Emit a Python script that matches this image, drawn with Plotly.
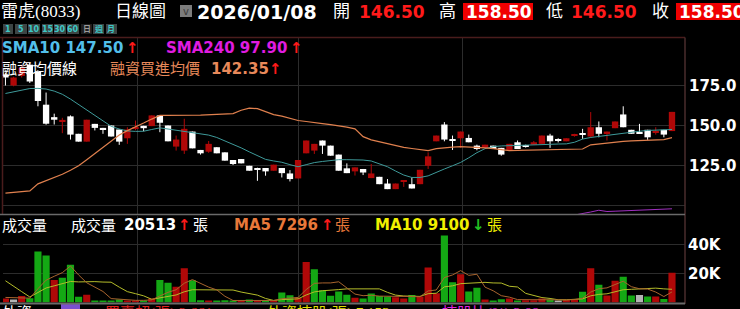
import plotly.graph_objects as go

# ---------------- data ----------------
open_ = [182.0, 175.0, 181.0, 188.0, 183.5, 163.0, 155.2, 152.5, 155.7, 144.8,
         139.9, 151.0, 148.5, 150.0, 147.5, 142.0, 148.0, 149.8, 149.6, 156.3,
         150.0, 136.8, 134.3, 146.2, 134.7, 133.6, 136.4, 133.2, 128.4, 129.0,
         124.8, 123.4, 123.4, 121.7, 123.4, 120.0, 116.9, 132.6, 134.3, 140.6,
         137.4, 131.8, 123.2, 121.3, 122.8, 117.1, 117.9, 113.7, 110.2, 115.0,
         113.3, 113.3, 124.8, 140.1, 150.6, 141.2, 142.0, 142.2, 137.4, 135.9,
         137.4, 136.0, 134.7, 139.5, 137.4, 138.0, 138.5, 143.7, 141.2, 140.1,
         143.5, 144.8, 143.1, 148.9, 145.2, 148.3, 156.9, 147.3, 145.8, 147.3,
         145.8, 147.3, 146.5]
high = [183.0, 180.5, 188.0, 189.0, 184.5, 170.6, 157.4, 154.8, 156.3, 144.8,
        153.6, 151.0, 148.5, 150.0, 147.5, 148.9, 153.1, 149.8, 156.3, 156.3,
        150.0, 143.7, 154.2, 146.2, 134.7, 140.3, 136.4, 133.2, 128.4, 129.0,
        124.8, 123.6, 123.4, 125.5, 123.4, 122.1, 128.4, 140.6, 138.5, 140.6,
        137.4, 131.8, 126.3, 123.8, 122.8, 125.9, 117.9, 116.5, 113.7, 115.8,
        117.5, 122.3, 133.2, 143.7, 152.1, 143.7, 146.2, 144.3, 138.0, 138.0,
        137.4, 136.0, 138.5, 140.6, 138.0, 140.3, 143.7, 144.8, 142.0, 142.0,
        144.8, 147.9, 158.4, 152.5, 146.2, 152.5, 162.0, 147.3, 151.0, 147.3,
        148.9, 147.3, 158.5]
low = [175.0, 174.5, 180.0, 176.6, 162.0, 150.5, 150.6, 145.2, 141.2, 139.9,
       139.9, 146.9, 144.8, 143.1, 137.9, 138.5, 147.0, 146.4, 149.6, 145.8,
       140.1, 134.3, 132.2, 135.7, 131.8, 132.9, 132.6, 128.0, 125.3, 126.3,
       121.7, 115.4, 118.6, 121.7, 117.5, 115.0, 116.9, 132.6, 132.2, 132.2,
       131.1, 121.7, 120.2, 118.7, 119.0, 117.1, 113.3, 110.2, 110.2, 111.6,
       110.6, 113.3, 122.8, 140.1, 140.1, 134.7, 136.0, 139.5, 134.5, 135.9,
       135.3, 131.1, 134.7, 135.3, 136.2, 138.0, 138.5, 136.0, 139.4, 140.1,
       143.0, 141.6, 142.2, 142.6, 140.6, 148.3, 148.9, 144.8, 145.2, 141.0,
       144.3, 142.6, 146.5]
close = [180.0, 180.0, 186.0, 177.5, 165.3, 151.1, 153.6, 153.5, 144.3, 139.9,
         153.6, 148.5, 147.5, 143.1, 139.9, 147.5, 149.0, 148.3, 156.3, 151.7,
         140.1, 141.2, 147.9, 135.7, 132.6, 138.5, 132.6, 128.0, 125.9, 126.3,
         121.7, 122.6, 121.3, 125.5, 120.2, 116.5, 128.4, 140.6, 138.5, 137.4,
         131.1, 121.7, 120.2, 123.8, 120.6, 120.0, 113.3, 110.2, 113.7, 115.8,
         110.6, 122.3, 130.7, 143.7, 141.2, 140.6, 146.2, 139.5, 135.3, 138.0,
         135.3, 131.8, 138.5, 135.3, 136.8, 139.5, 143.7, 140.1, 140.4, 142.0,
         144.3, 144.1, 148.9, 144.8, 146.2, 152.5, 148.9, 144.8, 145.2, 142.6,
         146.4, 144.3, 158.5]
volume = [2760, 2070, 4400, 3000, 35200, 32400, 15600, 17000, 26000, 3900,
          5300, 1400, 1400, 1400, 2000, 1400, 1400, 1400, 2800, 15600,
          13600, 10800, 23700, 15400, 1600, 1400, 1400, 1600, 1200, 1200,
          2000, 1400, 1200, 1400, 6900, 5000, 3200, 28000, 23000, 8500,
          4600, 7600, 5300, 3200, 2800, 6200, 4500, 4200, 3700, 2800,
          5200, 4200, 24200, 6400, 46200, 13900, 19500, 7600, 10100, 2100,
          1200, 2300, 2800, 1400, 1600, 1600, 2800, 2100, 900, 1800,
          2300, 7400, 23700, 12200, 4800, 15000, 17700, 4800, 5100, 4100,
          4100, 2500, 20513]
vol_dir = ["r", "n", "r", "g", "g", "g", "r", "g", "g", "g",
           "r", "g", "g", "g", "g", "r", "r", "g", "r", "g",
           "g", "r", "r", "g", "g", "r", "g", "g", "g", "r",
           "g", "r", "g", "r", "g", "g", "r", "r", "g", "g",
           "g", "g", "g", "r", "g", "g", "g", "g", "r", "r",
           "g", "r", "r", "r", "g", "g", "r", "g", "g", "r",
           "g", "g", "r", "g", "r", "r", "r", "g", "n", "r",
           "r", "g", "r", "g", "r", "r", "g", "g", "n", "g",
           "r", "g", "r"]
sma10 = [170.0, 171.0, 172.2, 173.1, 173.2, 172.8, 171.5, 169.5, 166.5, 163.0,
         159.5, 156.0, 152.5, 149.5, 147.8, 146.6, 146.3, 146.4, 147.5, 148.5,
         147.8, 147.0, 146.4, 145.8, 145.0, 144.0, 142.5, 140.5, 138.5, 136.0,
         133.5, 131.0, 128.8, 127.8, 127.0, 125.5, 124.2, 125.5, 126.8, 127.5,
         128.2, 128.6, 128.6, 128.5, 128.4, 127.8, 126.0, 124.2, 121.5, 119.0,
         117.5, 117.5, 118.5, 120.8, 122.8, 124.8, 126.9, 129.8, 133.0, 135.5,
         136.8, 137.2, 137.3, 137.4, 137.5, 137.8, 138.0, 138.2, 138.4, 138.5,
         139.5, 141.5, 142.5, 143.2, 143.7, 144.3, 145.2, 146.0, 146.4, 146.9,
         147.1, 147.3, 147.5]
margin_avg = [107.7, 108.2, 108.6, 109.1, 113.5, 115.5, 117.5, 119.5, 122.0, 124.8,
              128.5, 132.5, 136.5, 140.5, 144.0, 146.8, 149.0, 151.5, 154.0, 156.3,
              156.3, 156.2, 156.3, 156.4, 156.5, 156.7, 156.9, 157.2, 157.4, 159.5,
              160.9, 160.5, 158.5, 156.8, 155.8, 154.5, 153.1, 152.5, 152.0, 151.2,
              150.5, 149.8, 149.0, 147.9, 143.0, 141.0, 139.8, 138.5, 137.3, 136.3,
              135.6, 135.0, 134.3, 135.5, 136.2, 136.5, 136.8, 136.6, 136.3, 136.0,
              135.5, 134.8, 134.3, 134.4, 134.5, 134.6, 134.7, 134.8, 134.9, 135.0,
              135.2, 135.3, 137.9, 138.5, 139.0, 139.6, 140.1, 140.4, 140.6, 140.8,
              141.0, 141.2, 142.35]
sma240 = [None] * 70 + [94.0, 94.8, 95.9, 97.0, 96.2, 96.4, 96.6, 96.8, 97.0,
                        97.2, 97.4, 97.6, 97.9]
vol_ma5 = [3500, 3200, 3300, 3000, 9500, 15400, 18100, 20600, 25200, 19000,
           13600, 10700, 7600, 2700, 2300, 1500, 1500, 1500, 1800, 4500,
           7000, 8800, 13300, 15800, 13000, 10600, 8700, 4300, 1400, 1400,
           1500, 1500, 1400, 1400, 2600, 3200, 3500, 8900, 13200, 13500,
           13500, 14300, 9800, 5800, 4700, 5000, 4400, 4200, 4300, 4300,
           4100, 4000, 8000, 8600, 17200, 19000, 22000, 18700, 19500, 10600,
           8100, 4700, 3700, 2000, 1900, 1900, 2000, 1900, 1800, 1800,
           2000, 2900, 7200, 9500, 10100, 12600, 14700, 10900, 9500, 9300,
           7200, 4100, 7296]
vol_ma10 = [15000, 11500, 7500, 3800, 7000, 10000, 11500, 12800, 14500, 14200,
            14500, 14400, 14100, 14000, 10600, 7500, 6100, 4600, 2200, 3400,
            4200, 5200, 7400, 8800, 8800, 8800, 8800, 8800, 8600, 7200,
            6000, 5100, 2800, 1400, 2000, 2300, 2500, 5200, 7300, 8100,
            8300, 8900, 9400, 9500, 9100, 9200, 9400, 7000, 5100, 4500,
            4600, 4200, 6100, 6400, 10800, 11500, 13000, 13400, 14000, 13900,
            13500, 13400, 11200, 10700, 6300, 5000, 3400, 2800, 1900, 1900,
            2000, 2500, 4600, 5600, 6000, 7300, 8800, 9100, 9500, 9700,
            9900, 9400, 9100]
price_ticks = [100, 125, 150, 175]
price_tick_text = ["", "125.0", "150.0", "175.0"]
vol_ticks = [20000, 40000]
vol_tick_text = ["20K", "40K"]
month_breaks = [16.2, 36.1, 56.2]

# ---------------- styling ----------------
W, H = 740, 309
def px(x): return x / W
def py(y): return 1 - y / H

RED = "#B00808"
WHITE = "#FFFFFF"
GREEN = "#14A814"
GRAY = "#B4B4B4"
GRID = "#2C2C2C"
NUM = "DejaVu Sans"
CJK = "Liberation Serif, Noto Sans CJK TC"

idx = list(range(len(close)))
up = [c > o for o, c in zip(open_, close)]

fig = go.Figure()

# wicks
for flag, col in ((True, RED), (False, WHITE)):
    wx, wy = [], []
    for i in idx:
        if up[i] == flag:
            wx += [i, i, None]
            wy += [low[i], high[i], None]
    fig.add_trace(go.Scatter(x=wx, y=wy, mode="lines", line=dict(color=col, width=1),
                             hoverinfo="skip", xaxis="x", yaxis="y"))

# bodies
base = [min(o, c) for o, c in zip(open_, close)]
height = [max(abs(c - o), 0.8) for o, c in zip(open_, close)]
bcol = [RED if u else WHITE for u in up]
fig.add_trace(go.Bar(x=idx, y=height, base=base, width=0.78,
                     marker=dict(color=bcol, line=dict(width=0)),
                     xaxis="x", yaxis="y", hoverinfo="skip"))

# lines on price panel
fig.add_trace(go.Scatter(x=idx, y=sma10, mode="lines", line=dict(color="#3E9A9A", width=1),
                         xaxis="x", yaxis="y", hoverinfo="skip"))
fig.add_trace(go.Scatter(x=idx, y=margin_avg, mode="lines", line=dict(color="#E0804E", width=1.2),
                         xaxis="x", yaxis="y", hoverinfo="skip"))
fig.add_trace(go.Scatter(x=idx, y=sma240, mode="lines", line=dict(color="#A030C0", width=1),
                         xaxis="x", yaxis="y", hoverinfo="skip"))

# volume
vmap = {"r": RED, "g": GREEN, "n": GRAY}
fig.add_trace(go.Bar(x=idx, y=volume, width=0.88,
                     marker=dict(color=[vmap[d] for d in vol_dir], line=dict(width=0)),
                     xaxis="x2", yaxis="y2", hoverinfo="skip"))
fig.add_trace(go.Scatter(x=idx, y=vol_ma10, mode="lines", line=dict(color="#B4BC2A", width=1),
                         xaxis="x2", yaxis="y2", hoverinfo="skip"))
fig.add_trace(go.Scatter(x=idx, y=vol_ma5, mode="lines", line=dict(color="#A8642E", width=1),
                         xaxis="x2", yaxis="y2", hoverinfo="skip"))

xcommon = dict(domain=[px(3), px(685)], range=[-0.3, 83.6], tickvals=month_breaks,
               showticklabels=False, showgrid=True, gridcolor=GRID, gridwidth=1,
               zeroline=False, showline=False, ticks="", fixedrange=True)
fig.update_layout(
    width=W, height=H, margin=dict(l=0, r=0, t=0, b=0),
    paper_bgcolor="black", plot_bgcolor="black", showlegend=False,
    barmode="overlay",
    xaxis=dict(anchor="y", **xcommon),
    xaxis2=dict(anchor="y2", matches="x", **xcommon),
    yaxis=dict(domain=[py(214), py(38)], range=[94.65, 204.7], side="right",
               tickvals=price_ticks, ticktext=price_tick_text, showgrid=True,
               gridcolor=GRID, zeroline=False, ticks="", ticklabelstandoff=3,
               tickfont=dict(family=NUM, size=15, color="white", weight="bold"),
               fixedrange=True),
    yaxis2=dict(domain=[py(302.5), py(215.5)], range=[0, 60000], side="right",
                tickvals=vol_ticks, ticktext=vol_tick_text, showgrid=True,
                gridcolor=GRID, zeroline=False, ticks="", ticklabelstandoff=2,
                tickfont=dict(family=NUM, size=15, color="white", weight="bold"),
                fixedrange=True),
)

shapes = []
def line(x0, y0, x1, y1, color, w=1):
    shapes.append(dict(type="line", xref="paper", yref="paper", x0=px(x0), y0=py(y0),
                       x1=px(x1), y1=py(y1), line=dict(color=color, width=w)))
def rect(x0, y0, x1, y1, fill, lc=None):
    shapes.append(dict(type="rect", xref="paper", yref="paper", x0=px(x0), y0=py(y0),
                       x1=px(x1), y1=py(y1), fillcolor=fill,
                       line=dict(color=lc or fill, width=1 if lc else 0), layer="below"))

# panel borders
line(0, 37.5, 685, 37.5, "#4A1C1C", 1.5)
line(2.5, 37.5, 2.5, 214, "#4A1C1C", 1.5)
line(685, 37.5, 685, 304, "#4A2C2C", 1.5)
line(0, 214.5, 685, 214.5, "#6A6A6A", 1.5)
line(0, 303.5, 685, 303.5, "#6A6A6A", 2)
# header boxes
rect(180, 5, 192, 17, "#7C7C7C")
rect(463, 3, 533, 20, "#F00000")
rect(676, 3, 740, 20, "#F00000")
btn_labels = ["1", "5", "10", "15", "30", "60", "日", "週", "月"]
btn_l = [3, 15, 28, 42, 54, 67, 81, 93, 106]
btn_r = [13, 27, 40, 53, 66, 79, 92, 104, 117]
for lab, a, b in zip(btn_labels, btn_l, btn_r):
    rect(a, 24, b, 34, "#1E1E1E" if lab == "日" else "#3C4444")
rect(61, 304, 80, 312, "#7A4FD0")
fig.update_layout(shapes=shapes)

anns = []
def txt(x, y, s, color="white", size=15, family=CJK, bold=False, anchor="left"):
    t = "<b>%s</b>" % s if bold else s
    anns.append(dict(x=px(x), y=py(y), xref="paper", yref="paper", text=t,
                     showarrow=False, xanchor=anchor, yanchor="middle",
                     font=dict(color=color, size=size, family=family), borderpad=0))

# header
txt(0, 12, "雷虎(8033)", size=17)
txt(114, 12, "日線圖", size=17)
txt(186, 11, "v", color="#3A3A3A", size=10, family=NUM, anchor="center")
txt(196, 12, "2026/01/08", size=19, family=NUM, bold=True)
txt(332, 12, "開", size=17)
txt(358, 12, "146.50", color="#FF1A1A", size=17, family=NUM, bold=True)
txt(438, 12, "高", size=17)
txt(465, 12, "158.50", size=17, family=NUM, bold=True)
txt(545, 12, "低", size=17)
txt(570, 12, "146.50", color="#FF1A1A", size=17, family=NUM, bold=True)
txt(651, 12, "收", size=17)
txt(678, 12, "158.50", size=17, family=NUM, bold=True)
for lab, a, b in zip(btn_labels, btn_l, btn_r):
    txt((a + b) / 2, 29, lab, color="#9A9A9A" if lab == "日" else "#3CC8C8",
        size=8, family="DejaVu Sans, Noto Sans CJK TC", bold=True, anchor="center")

# price legend
txt(1, 48, "SMA10 147.50", color="#52BFEA", size=15, family=NUM, bold=True)
txt(125, 48, "↑", color="#FF1A1A", size=15, family=NUM, bold=True)
txt(165, 48, "SMA240 97.90", color="#E01CE0", size=15, family=NUM, bold=True)
txt(289, 48, "↑", color="#FF1A1A", size=15, family=NUM, bold=True)
txt(1, 69, "融資均價線", size=15)
txt(109, 69, "融資買進均價", color="#E8895A", size=15)
txt(210, 69, "142.35", color="#E8895A", size=15, family=NUM, bold=True)
txt(268, 69, "↑", color="#FF1A1A", size=15, family=NUM, bold=True)

# volume legend
txt(1, 225, "成交量", size=15)
txt(70, 225, "成交量", size=15)
txt(123, 225, "20513", size=15, family=NUM, bold=True)
txt(177, 225, "↑", color="#FF1A1A", size=15, family=NUM, bold=True)
txt(192, 225, "張", size=15)
txt(233, 225, "MA5 7296", color="#E8783A", size=15, family=NUM, bold=True)
txt(320, 225, "↑", color="#FF1A1A", size=15, family=NUM, bold=True)
txt(334, 225, "張", color="#E8783A", size=15)
txt(374, 225, "MA10 9100", color="#F0F000", size=15, family=NUM, bold=True)
txt(471, 225, "↓", color="#22C022", size=15, family=NUM, bold=True)
txt(486, 225, "張", color="#F0F000", size=15)

# bottom strip (cut off by the window, as in the reference)
txt(1, 313, "外資", size=15)
txt(104, 313, "買賣超(張) 2,661↑", color="#E02020", size=15)
txt(266, 313, "外資持股(張) 7,153↑", color="#E0E000", size=15)
txt(441, 313, "持股比(%) 2.09↑", color="#E020E0", size=15)
fig.update_layout(annotations=anns)

fig.write_html("out.html")
